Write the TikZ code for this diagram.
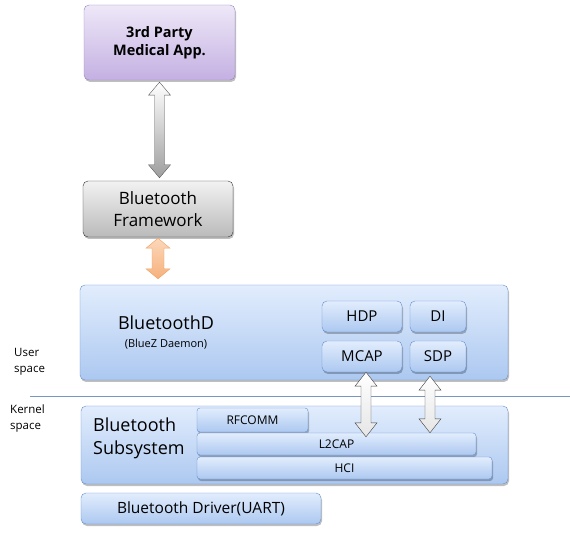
\documentclass[tikz,border=0pt]{standalone}
\usepackage{fontspec}
\setmainfont{Open Sans}
\definecolor{bluetop}{RGB}{226,237,253}
\definecolor{bluebot}{RGB}{172,200,240}
\definecolor{blueline}{RGB}{100,142,206}
\definecolor{purpletop}{RGB}{238,232,248}
\definecolor{purplebot}{RGB}{196,176,226}
\definecolor{purpleline}{RGB}{150,130,190}
\definecolor{graytop}{RGB}{242,242,242}
\definecolor{graybot}{RGB}{186,186,186}
\definecolor{orangetop}{RGB}{252,216,186}
\definecolor{orangebot}{RGB}{246,176,124}
\definecolor{orangeline}{RGB}{240,160,96}
\definecolor{divline}{RGB}{120,150,190}
\usetikzlibrary{
	calc,
	positioning,
	shadows
}
\newcommand{\fsz}[2]{\fontsize{#1}{#2}\selectfont}
\tikzset{
	blocknode/.style={draw, rounded corners=5pt, inner sep=0pt, align=center,
		drop shadow={shadow xshift=1pt, shadow yshift=-2pt, opacity=0.25, fill=black}},
	bluenode/.style={blocknode, draw=blueline, top color=bluetop, bottom color=bluebot},
	layernode/.style={bluenode, rounded corners=3pt, font=\fsz{12}{14}},
	labelnode/.style={align=left, inner sep=0pt, font=\fsz{11.5}{16}},
	blockarrow/.style n args={3}{draw, to path={
		let \p1=(\tikztostart), \p2=(\tikztotarget) in
		(\x1,\y1) -- (\x1+#2pt,\y1-#3pt) -- (\x1+#1pt,\y1-#3pt) -- (\x1+#1pt,\y2+#3pt)
		-- (\x1+#2pt,\y2+#3pt) -- (\x1,\y2) -- (\x1-#2pt,\y2+#3pt) -- (\x1-#1pt,\y2+#3pt)
		-- (\x1-#1pt,\y1-#3pt) -- (\x1-#2pt,\y1-#3pt) -- cycle}}
}
\begin{document}
\begin{tikzpicture}[x=1pt, y=1pt]
	\useasboundingbox (0,0) rectangle (570,533);
	\node[blocknode, draw=purpleline, top color=purpletop, bottom color=purplebot,
		minimum width=151, minimum height=75, font=\bfseries\fsz{14.5}{18}]
		(app) at (159.5,490.5) {3rd Party\\Medical App.};
	\node[blocknode, draw=black!80, top color=graytop, bottom color=graybot,
		minimum width=150, minimum height=56, font=\fsz{17}{22}]
		(fw) at (158,324) {Bluetooth\\Framework};
	\node[bluenode, minimum width=428, minimum height=95] (btd) at (294,200.5) {};
	\node[align=center, inner sep=0pt, font=\fsz{11}{18}] (btdlabel) at (166,200)
		{{\fsz{18}{22}BluetoothD}\\(BlueZ Daemon)};
	\foreach \name/\txt/\x/\y/\w in {hdp/HDP/362/216.5/80, di/DI/438/216.5/56,
		mcap/MCAP/362/176.5/80, sdp/SDP/438/176.5/56} {
		\node[bluenode, minimum width=\w, minimum height=31, font=\fsz{15}{18}]
			(\name) at (\x,\y) {\txt};
	}
	\node[bluenode, minimum width=427, minimum height=78] (subsys) at (294.5,88) {};
	\node[labelnode, font=\fsz{18}{23}, anchor=west] (subsyslabel) at (93,95)
		{Bluetooth\\Subsystem};
	\node[layernode, minimum width=111, minimum height=24] (rfcomm) at (252.5,113) {RFCOMM};
	\node[layernode, minimum width=279, minimum height=22] (l2cap) at (336.5,89) {L2CAP};
	\node[layernode, minimum width=295, minimum height=22] (hci) at (344.5,65) {HCI};
	\node[bluenode, minimum width=240, minimum height=31, font=\fsz{15.5}{18}]
		(drv) at (201,24.5) {Bluetooth Driver(UART)};
	\coordinate (divl) at (30,137);
	\coordinate (divr) at (570,137);
	\draw[divline] (divl) -- (divr);
	\node[labelnode, anchor=west] (user) at (14,171) {User\\space};
	\node[labelnode, anchor=west] (kernel) at (10,114) {Kernel\\space};
	\draw[blockarrow={5}{11}{13}, draw=black!65, top color=white, bottom color=black!38]
		([yshift=-2]app.south) to ([yshift=3]fw.north);
	\draw[blockarrow={6}{12}{10}, draw=orangeline, top color=orangetop, bottom color=orangebot]
		([yshift=-1]fw.south) to ([yshift=6]btd.north);
	\draw[blockarrow={5}{11}{14}, draw=black!75, top color=white, bottom color=black!10]
		([xshift=4]mcap.south) to ([yshift=-4]l2cap.north);
	\draw[blockarrow={5}{11}{14}, draw=black!75, top color=white, bottom color=black!10]
		([xshift=-8, yshift=-4]sdp.south) to (l2cap.north);
\end{tikzpicture}
\end{document}
